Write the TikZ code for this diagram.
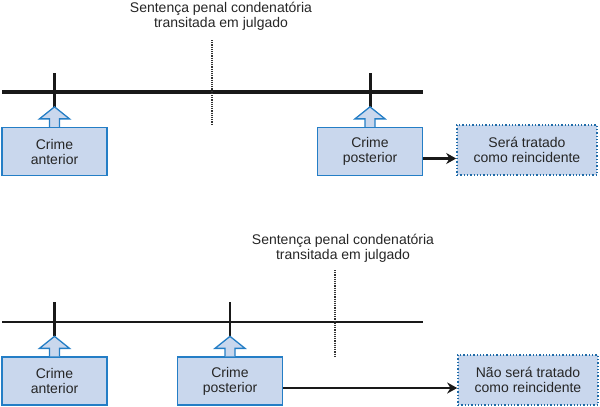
\documentclass[tikz,border=0pt]{standalone}
\usepackage{fontspec}
\setmainfont{Liberation Sans}
\usepackage{xcolor}
\usetikzlibrary{arrows.meta, positioning}
\definecolor{boxfill}{RGB}{201,215,237}
\definecolor{boxline}{RGB}{36,126,198}
\definecolor{txtgray}{RGB}{38,38,38}
\def\tipH{20}
\def\tickH{34}
\newcommand{\crimemark}[1]{%
% #1 = crime box: tick on the time line and hollow arrow up to it

\draw[tick] (#1.north) ++(0,-\tipH) -- ++(0,-\tickH);
\draw[blockarrow]
([xshift=-5pt]#1.north) -- ++(0,-8) -- ++(-10,0) -- ++(15,-12)
-- ++(15,12) -- ++(-10,0) -- ++(0,8);
}

\begin{document}
\begin{tikzpicture}[
    x=1pt, y=-1pt,
    font=\fontsize{14pt}{15pt}\selectfont,
    >={Stealth[length=10pt,width=11pt]},
    crime/.style={draw=boxline, fill=boxfill, line width=1.3pt, align=center,
        text=txtgray, minimum width=105pt, minimum height=48pt, inner sep=0pt},
    result/.style={crime, draw=boxline!85!black, dotted, line width=1.6pt,
        minimum width=140pt, minimum height=50pt},
    blockarrow/.style={draw=boxline, fill=boxfill, line width=1.3pt},
    tick/.style={line width=3pt, black!90},
    timeline/.style={line width=3.5pt, black!90},
    sentline/.style={line width=1.3pt, black!80, dash pattern=on 1.2pt off 1pt},
    label/.style={align=center, text=txtgray}
]
\useasboundingbox (0,0) rectangle (600,407);

% antes do transito em julgado
\node[label] (sent1) at (221,16) {Sentença penal condenatória\\transitada em julgado};
\coordinate (tl1a) at (2,92);
\coordinate (tl1b) at (423,92);
\draw[timeline] (tl1a) -- (tl1b);
\coordinate (s1top) at (212,40);
\coordinate (s1bot) at (212,125);
\draw[sentline] (s1top) -- (s1bot);
\node[crime] (ant1) at (54.5,151.5) {Crime\\anterior};
\node[crime] (post1) at (370,151.5) {Crime\\posterior};
\node[result] (res1) at (527,150) {Será tratado\\como reincidente};
\crimemark{ant1}
\crimemark{post1}
\draw[->, line width=2.5pt, black!90] ([yshift=-7pt]post1.east) -- ([yshift=-7pt]post1.east -| res1.west);

% depois do transito em julgado
\tikzset{tick/.append style={line width=2.5pt}, timeline/.append style={line width=2.5pt}}
\node[label] (sent2) at (343,248) {Sentença penal condenatória\\transitada em julgado};
\coordinate (tl2a) at (2,322);
\coordinate (tl2b) at (423,322);
\draw[timeline] (tl2a) -- (tl2b);
\coordinate (s2top) at (335,270);
\coordinate (s2bot) at (335,356);
\draw[sentline] (s2top) -- (s2bot);
\node[crime] (ant2) at (54.5,381) {Crime\\anterior};
\node[crime] (post2) at (230,381) {Crime\\posterior};
\node[result] (res2) at (528,380) {Não será tratado\\como reincidente};
\crimemark{ant2}
\crimemark{post2}
\draw[->, line width=2.5pt, black!90] ([yshift=-7pt]post2.east) -- ([yshift=-7pt]post2.east -| res2.west);
\end{tikzpicture}
\end{document}
